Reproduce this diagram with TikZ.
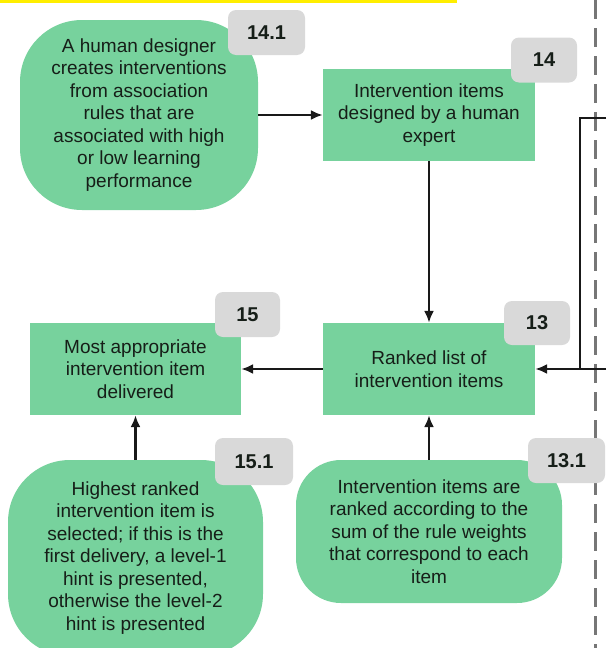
\documentclass[tikz,border=0pt]{standalone}
\usepackage{fontspec}
\setmainfont{Liberation Sans}
\usetikzlibrary{arrows.meta}
\definecolor{stepgreen}{RGB}{119,210,157}
\definecolor{taggray}{RGB}{217,217,217}
\definecolor{inkdark}{RGB}{22,30,24}
\definecolor{guidegray}{RGB}{118,118,118}
\definecolor{markyellow}{RGB}{255,238,0}
\tikzset{
  gbox/.style={draw=none, fill=stepgreen, minimum width=212pt, minimum height=92pt,
               inner sep=0pt, align=center, text=inkdark, font=\fontsize{19}{22.5}\selectfont},
  gblob/.style={gbox, rounded corners=62pt},
  tag/.style={rounded corners=8pt, fill=taggray, minimum width=66pt, minimum height=45pt,
              inner sep=0pt, text=inkdark, font=\fontsize{20}{24}\selectfont\bfseries},
  flow/.style={-{Latex[length=12pt,width=10pt]}, line width=2.3pt, draw=black!90},
  feed/.style={line width=2.3pt, draw=black!90},
  divider/.style={draw=guidegray, line width=3pt, dash pattern=on 19pt off 9pt},
}
\begin{document}
\begin{tikzpicture}[x=1pt, y=-1pt]
    \useasboundingbox (0,0) rectangle (606,648);
    % marker and divider
    \draw[markyellow, line width=3pt] (0,1.5) -- (457,1.5);
    \draw[divider] (595,0) -- (595,648);
    % main steps
    \node[gblob, minimum width=238pt, minimum height=190pt] (s141) at (139,115)
      {A human designer\\ creates interventions\\ from association\\ rules that are\\ associated with high\\ or low learning\\ performance};
    \node[gbox] (s14) at (429,115) {Intervention items\\ designed by a human\\ expert};
    \node[gbox] (s13) at (429,369) {Ranked list of\\ intervention items};
    \node[gbox, minimum width=211pt] (s15) at (135.5,369) {Most appropriate\\ intervention item\\ delivered};
    \node[gblob, minimum width=255pt, minimum height=196pt] (s151) at (135.5,558)
      {Highest ranked\\ intervention item is\\ selected; if this is the\\ first delivery, a level-1\\ hint is presented,\\ otherwise the level-2\\ hint is presented};
    \node[gblob, rounded corners=45pt, minimum width=266pt, minimum height=143pt] (s131) at (429,531.5)
      {Intervention items are\\ ranked according to the\\ sum of the rule weights\\ that correspond to each\\ item};
    % step numbers
    \node[tag, minimum width=77pt] (t141) at (266.5,32.5) {14.1};
    \node[tag] (t14) at (544,60) {14};
    \node[tag, minimum height=44pt] (t13) at (537,323) {13};
    \node[tag, minimum width=65pt] (t15) at (247.5,314.5) {15};
    \node[tag, minimum width=78pt, minimum height=47pt] (t151) at (254,461.5) {15.1};
    \node[tag, minimum width=77pt] (t131) at (566.5,460.5) {13.1};
    % incoming lines from the right
    \coordinate (ftop) at (606,118);
    \coordinate (fjoin) at (580,369);
    \coordinate (fbot) at (606,369);
    \draw[feed] (ftop) -| (fjoin);
    \draw[flow] (fbot) -- (s13);
    % connectors
    \draw[flow] (s141) -- (s14);
    \draw[flow] (s14) -- (s13);
    \draw[flow] (s13) -- (s15);
    \draw[flow] (s151) -- (s15);
    \draw[flow] (s131) -- (s13);
  \end{tikzpicture}
\end{document}
